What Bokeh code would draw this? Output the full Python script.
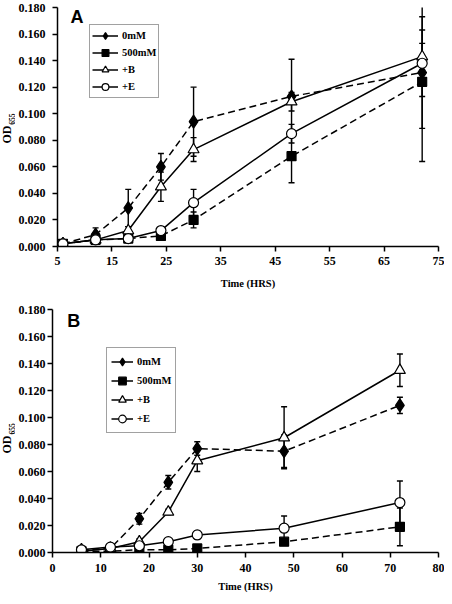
import math
from bokeh.plotting import figure
from bokeh.models import (Whisker, TeeHead, ColumnDataSource, Legend, LegendItem, Label,
                          FixedTicker, NumeralTickFormatter, Range1d)
from bokeh.layouts import column, row
from bokeh.embed import file_html
from bokeh.resources import INLINE

# ---------------- data ----------------
time_hrs = [6, 12, 18, 24, 30, 48, 72]
series_names = ["0mM", "500mM", "+B", "+E"]

# Panel A
a_0mM = [0.002, 0.009, 0.029, 0.060, 0.094, 0.113, 0.131]
a_0mM_err = [0.001, 0.005, 0.014, 0.010, 0.026, 0.028, 0.042]
a_500mM = [0.002, 0.005, 0.006, 0.008, 0.020, 0.068, 0.124]
a_500mM_err = [0.001, 0.001, 0.001, 0.002, 0.006, 0.020, 0.060]
a_B = [0.002, 0.005, 0.012, 0.045, 0.073, 0.109, 0.143]
a_B_err = [0.001, 0.002, 0.003, 0.011, 0.009, 0.007, 0.010]
a_E = [0.002, 0.005, 0.006, 0.012, 0.033, 0.085, 0.138]
a_E_err = [0.001, 0.001, 0.001, 0.002, 0.010, 0.007, 0.025]

# Panel B
b_0mM = [0.002, 0.003, 0.025, 0.052, 0.077, 0.075, 0.109]
b_0mM_err = [0.001, 0.001, 0.004, 0.005, 0.005, 0.012, 0.006]
b_500mM = [0.001, 0.001, 0.002, 0.002, 0.003, 0.008, 0.019]
b_500mM_err = [0.0005, 0.0005, 0.001, 0.001, 0.001, 0.002, 0.014]
b_B = [0.001, 0.003, 0.008, 0.030, 0.068, 0.085, 0.135]
b_B_err = [0.001, 0.001, 0.002, 0.002, 0.008, 0.023, 0.012]
b_E = [0.002, 0.004, 0.005, 0.008, 0.013, 0.018, 0.037]
b_E_err = [0.001, 0.001, 0.001, 0.001, 0.003, 0.009, 0.016]

y_ticks = [0.0, 0.02, 0.04, 0.06, 0.08, 0.10, 0.12, 0.14, 0.16, 0.18]
a_x_ticks = [5, 15, 25, 35, 45, 55, 65, 75]
b_x_ticks = [0, 10, 20, 30, 40, 50, 60, 70, 80]
x_title = "Time (HRS)"
y_title = "OD"
y_sub = "655"

SERIF = "Liberation Serif"
SANS = "Liberation Sans"

STYLE = {
    "0mM": dict(marker="diamond", fill="black", size=13, dash="7 4"),
    "500mM": dict(marker="square", fill="black", size=9, dash="7 4"),
    "+B": dict(marker="triangle", fill="white", size=11, dash="solid"),
    "+E": dict(marker="circle", fill="white", size=10, dash="solid"),
}

LABEL_W = 15
TOTAL_W = 444


def y_title_strip(height, mb_top, mb_bottom, od_x, od_y, sub_x, sub_y):
    s = figure(width=LABEL_W, height=height, output_backend="svg", toolbar_location=None,
               x_range=Range1d(0, LABEL_W), y_range=Range1d(0, 0.18),
               x_axis_type=None, y_axis_type=None,
               min_border_left=0, min_border_right=0,
               min_border_top=mb_top, min_border_bottom=mb_bottom)
    s.outline_line_color = None
    s.xgrid.visible = False
    s.ygrid.visible = False
    s.add_layout(Label(x=od_x, y=od_y, text=y_title, angle=math.pi / 2,
                       text_align="center", text_baseline="middle",
                       text_font=SERIF, text_font_style="bold",
                       text_font_size="12px", text_color="black"))
    s.add_layout(Label(x=sub_x, y=sub_y, text=y_sub, angle=math.pi / 2,
                       text_align="center", text_baseline="middle",
                       text_font=SERIF, text_font_style="bold",
                       text_font_size="7.5px", text_color="black"))
    return s


def make_panel(letter, xr, x_ticks, vals, errs, height, mb_left, mb_right,
               mb_top, mb_bottom, label_standoff, y_label_standoff, title_standoff,
               legend_loc, leg_font, leg_row, leg_glyph_w, leg_pad, letter_pos):
    width = TOTAL_W - LABEL_W
    p = figure(width=width, height=height, output_backend="svg", toolbar_location=None,
               x_range=Range1d(*xr), y_range=Range1d(0, 0.18),
               min_border_left=mb_left, min_border_right=mb_right,
               min_border_top=mb_top, min_border_bottom=mb_bottom)
    p.xgrid.visible = False
    p.ygrid.visible = False
    p.outline_line_color = None
    p.background_fill_color = "white"
    p.border_fill_color = "white"

    for ax in (p.xaxis[0], p.yaxis[0]):
        ax.axis_line_width = 1.5
        ax.axis_line_color = "black"
        ax.major_tick_line_width = 1.5
        ax.major_tick_line_color = "black"
        ax.major_tick_out = 5
        ax.major_tick_in = 0
        ax.minor_tick_line_color = None
        ax.major_label_text_font = SERIF
        ax.major_label_text_font_style = "bold"
        ax.major_label_text_font_size = "12px"
        ax.major_label_text_color = "black"
    p.xaxis.major_label_standoff = label_standoff
    p.yaxis.major_label_standoff = y_label_standoff
    p.xaxis.ticker = FixedTicker(ticks=x_ticks)
    p.yaxis.ticker = FixedTicker(ticks=y_ticks)
    p.yaxis.formatter = NumeralTickFormatter(format="0.000")
    p.xaxis.axis_label = x_title
    p.xaxis.axis_label_text_font = SERIF
    p.xaxis.axis_label_text_font_style = "bold"
    p.xaxis.axis_label_text_font_size = "10.5px"
    p.xaxis.axis_label_text_color = "black"
    p.xaxis.axis_label_standoff = title_standoff

    frame_w = width - mb_left - mb_right
    frame_h = height - mb_top - mb_bottom

    def to_data(cx, cy):
        x = xr[0] + (cx - mb_left) / frame_w * (xr[1] - xr[0])
        y = 0.18 * (1 - (cy - mb_top) / frame_h)
        return x, y

    items = []
    for name in series_names:
        st = STYLE[name]
        v = vals[name]
        e = errs[name]
        src = ColumnDataSource(dict(x=time_hrs, y=v,
                                    upper=[a + b for a, b in zip(v, e)],
                                    lower=[a - b for a, b in zip(v, e)]))
        p.line("x", "y", source=src, line_color="black", line_width=1.5,
               line_dash=st["dash"])
        p.add_layout(Whisker(source=src, base="x", upper="upper", lower="lower",
                             line_color="black", line_width=1.4,
                             upper_head=TeeHead(size=6, line_width=1.4, line_color="black"),
                             lower_head=TeeHead(size=6, line_width=1.4, line_color="black")))
        mk = p.scatter("x", "y", source=src, marker=st["marker"], size=st["size"],
                       fill_color=st["fill"], line_color="black", line_width=1.2)
        # legend-only solid line sample (NaN data draws nothing in the plot)
        leg_line = p.line(x=[float("nan")], y=[float("nan")], line_color="black",
                          line_width=1.5)
        items.append(LegendItem(label=name, renderers=[leg_line, mk]))

    legend = Legend(items=items, location=legend_loc, orientation="vertical",
                    padding=leg_pad, spacing=0, margin=0,
                    label_height=leg_row, glyph_height=leg_row, glyph_width=leg_glyph_w,
                    label_standoff=4,
                    label_text_font=SERIF, label_text_font_style="bold",
                    label_text_font_size=leg_font, label_text_color="black",
                    border_line_color="#444444", border_line_width=1,
                    background_fill_color="white", background_fill_alpha=1)
    p.add_layout(legend)

    lx, ly = to_data(*letter_pos)
    p.add_layout(Label(x=lx, y=ly, text=letter, text_align="left", text_baseline="top",
                       text_font=SANS, text_font_style="bold",
                       text_font_size="18px", text_color="black"))
    return p


# Panel A: frame left at 55 (15 strip + 40 border)
pA = make_panel("A", (5, 75), a_x_ticks,
                {"0mM": a_0mM, "500mM": a_500mM, "+B": a_B, "+E": a_E},
                {"0mM": a_0mM_err, "500mM": a_500mM_err, "+B": a_B_err, "+E": a_E_err},
                height=296, mb_left=40, mb_right=6, mb_top=7, mb_bottom=50,
                label_standoff=5, y_label_standoff=7, title_standoff=10,
                legend_loc=(32, 148), leg_font="10.5px", leg_row=17, leg_glyph_w=26,
                leg_pad=2, letter_pos=(68 - LABEL_W, 6))
sA = y_title_strip(296, 7, 50, od_x=6, od_y=0.0843, sub_x=11, sub_y=0.0960)

# Panel B: frame left at 48 (15 strip + 33 border)
pB = make_panel("B", (0, 80), b_x_ticks,
                {"0mM": b_0mM, "500mM": b_500mM, "+B": b_B, "+E": b_E},
                {"0mM": b_0mM_err, "500mM": b_500mM_err, "+B": b_B_err, "+E": b_E_err},
                height=300, mb_left=33, mb_right=6, mb_top=13, mb_bottom=44,
                label_standoff=6, y_label_standoff=2, title_standoff=6,
                legend_loc=(54, 119), leg_font="10.5px", leg_row=19, leg_glyph_w=22,
                leg_pad=4, letter_pos=(63 - LABEL_W, 14))
sB = y_title_strip(300, 13, 44, od_x=6, od_y=0.0800, sub_x=11, sub_y=0.0915)

layout = column(row(sA, pA, spacing=0), row(sB, pB, spacing=0), spacing=0)
open("out.html", "w").write(file_html(layout, INLINE))
